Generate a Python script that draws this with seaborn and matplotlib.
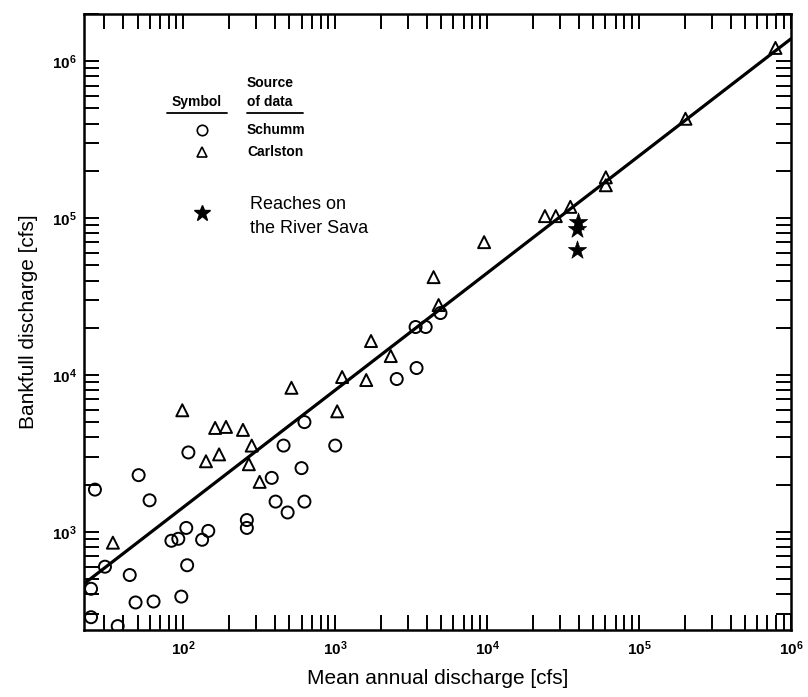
import numpy as np
import pandas as pd
import seaborn as sns
import matplotlib.pyplot as plt
from matplotlib.ticker import LogLocator, FuncFormatter, NullFormatter

# Schumm data (mean annual discharge, bankfull discharge) [cfs]
schumm_q = [26.2, 50.8, 60, 108, 30.5, 24.7, 44.4, 48.5, 63.7, 97, 106, 83.5, 92.7,
            104.6, 133, 146, 262, 262, 382, 405, 486, 457, 24.7, 37, 600, 627, 1000,
            627, 2540, 3430, 3380, 3940, 4930]
schumm_qb = [1860, 2300, 1590, 3210, 600, 434, 531, 355, 360, 387, 613, 878, 904,
             1060, 891, 1015, 1190, 1060, 2210, 1560, 1330, 3550, 286, 251, 2550, 5010, 3550,
             1560, 9430, 11080, 20230, 20230, 24830]

# Carlston data
carlston_q = [34.4, 98.5, 141, 162, 191, 172, 247, 282, 270, 318, 515, 1030, 1110,
              1600, 1720, 2320, 4440, 4790, 9550, 24000, 28300, 35300, 60400, 60400,
              202000, 790000]
carlston_qb = [854, 5960, 2820, 4600, 4670, 3120, 4470, 3550, 2700, 2085, 8290, 5870, 9710,
               9290, 16470, 13210, 42070, 27920, 70300, 103000, 103000, 118000, 182000, 162000,
               430000, 1216000]

# Reaches on the River Sava
sava_q = [39800, 39300, 39300]
sava_qb = [94400, 85100, 62500]

# fitted line end points
fit_q = [22.2, 1.0e6]
fit_qb = [467, 1.39e6]

sns.set_style("ticks")
plt.rcParams['font.family'] = ['Liberation Sans', 'DejaVu Sans']
plt.rcParams['mathtext.fontset'] = 'custom'
plt.rcParams['mathtext.bf'] = 'Liberation Sans:bold'
plt.rcParams['mathtext.rm'] = 'Liberation Sans'
plt.rcParams['text.color'] = 'black'
plt.rcParams['axes.labelcolor'] = 'black'
plt.rcParams['xtick.color'] = 'black'
plt.rcParams['ytick.color'] = 'black'

fig = plt.figure(figsize=(8.08, 6.97), dpi=100)
ax = fig.add_axes([84 / 808, 1 - 630 / 697, 707 / 808, 616 / 697])

ax.plot(fit_q, fit_qb, color='black', lw=2.3, zorder=2)

sns.scatterplot(x=schumm_q, y=schumm_qb, ax=ax, marker='o', s=75,
                facecolors='none', edgecolors='black', linewidth=1.4, zorder=3)
sns.scatterplot(x=carlston_q, y=carlston_qb, ax=ax, marker='^', s=75,
                facecolors='none', edgecolors='black', linewidth=1.4, zorder=3)
sns.scatterplot(x=sava_q, y=sava_qb, ax=ax, marker='*', s=190,
                color='black', edgecolor='black', linewidth=0.5, zorder=3)

ax.set_xscale('log')
ax.set_yscale('log')
ax.set_xlim(22.2, 1.0e6)
ax.set_ylim(237, 2.0e6)

ax.xaxis.set_major_locator(LogLocator(base=10, numticks=10))
ax.yaxis.set_major_locator(LogLocator(base=10, numticks=10))
ax.xaxis.set_minor_locator(LogLocator(base=10, subs=np.arange(2, 10), numticks=20))
ax.yaxis.set_minor_locator(LogLocator(base=10, subs=np.arange(2, 10), numticks=20))
fmt = FuncFormatter(lambda v, p: r'$\mathbf{10^{%d}}$' % int(round(np.log10(v))))
ax.xaxis.set_major_formatter(fmt)
ax.yaxis.set_major_formatter(fmt)
ax.xaxis.set_minor_formatter(NullFormatter())
ax.yaxis.set_minor_formatter(NullFormatter())

ax.tick_params(which='both', direction='in', top=True, right=True,
               length=11, width=1.4, color='black', labelcolor='black', labelsize=11)
ax.tick_params(axis='x', which='major', pad=7)
ax.tick_params(axis='y', which='major', pad=5)
for sp in ax.spines.values():
    sp.set_linewidth(1.8)
    sp.set_color('black')

ax.set_xlabel('Mean annual discharge [cfs]', fontsize=15, labelpad=8, color='black')
ax.set_ylabel('Bankfull discharge [cfs]', fontsize=15, labelpad=10, color='black')

# key
tr = ax.transAxes
ax.text(0.160, 0.857, 'Symbol', transform=tr, ha='center', va='center',
        fontsize=10, fontweight='bold')
ax.text(0.2305, 0.888, 'Source', transform=tr, ha='left', va='center',
        fontsize=10, fontweight='bold')
ax.text(0.2305, 0.857, 'of data', transform=tr, ha='left', va='center',
        fontsize=10, fontweight='bold')
ax.plot([0.117, 0.202], [0.840, 0.840], transform=tr, color='black', lw=1.3)
ax.plot([0.2305, 0.310], [0.840, 0.840], transform=tr, color='black', lw=1.3)
ax.plot([0.167], [0.812], transform=tr, marker='o', ms=7.5, mfc='none', mec='black', mew=1.2)
ax.plot([0.167], [0.776], transform=tr, marker='^', ms=7.5, mfc='none', mec='black', mew=1.2)
ax.plot([0.167], [0.677], transform=tr, marker='*', ms=12, color='black')
ax.text(0.2305, 0.812, 'Schumm', transform=tr, ha='left', va='center',
        fontsize=10, fontweight='bold')
ax.text(0.2305, 0.776, 'Carlston', transform=tr, ha='left', va='center',
        fontsize=10, fontweight='bold')
ax.text(0.235, 0.690, 'Reaches on', transform=tr, ha='left', va='center', fontsize=13)
ax.text(0.235, 0.651, 'the River Sava', transform=tr, ha='left', va='center', fontsize=13)

plt.savefig('out.png', dpi=100)
